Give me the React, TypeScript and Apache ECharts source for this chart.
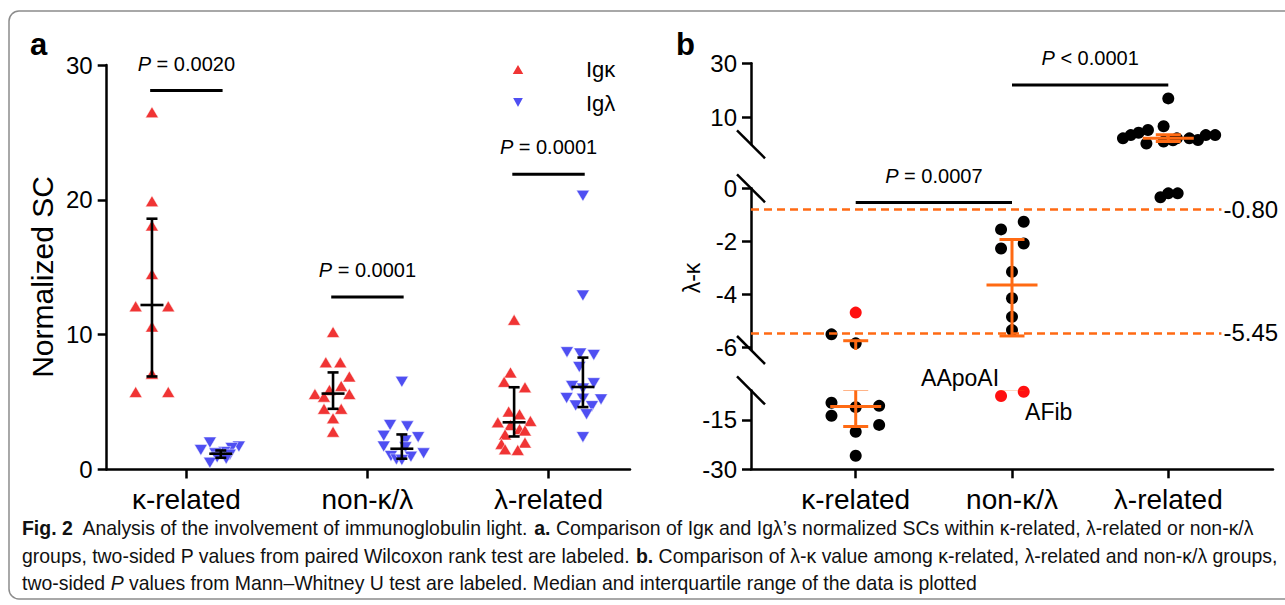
import React, { useEffect, useRef } from 'react';
import * as echarts from 'echarts';

// ---------- shared ----------
const categories = ['κ-related', 'non-κ/λ', 'λ-related'];
const categoryTicks = [0, 1, 2];

// ---------- panel a : normalized SC ----------
const kappaIgK = [26.5, 19.9, 18.1, 14.5, 12.1, 12.1, 10.6, 7.1, 5.75, 5.75];
const kappaIgKJit = [0, 0, 0, 0, -0.09, 0.09, 0, 0, -0.09, 0.09];
const kappaIgL = [2.0, 1.7, 1.6, 1.45, 1.3, 1.2, 1.1, 0.9, 0.8, 0.5];
const kappaIgLJit = [-0.06, 0.1, 0.06, -0.11, 0.02, -0.03, 0.05, -0.02, 0.03, -0.06];

const nonIgK = [10.2, 7.95, 7.95, 6.9, 6.2, 5.9, 5.6, 5.6, 5.4, 4.5, 4.5, 3.8, 2.8];
const nonIgKJit = [0, -0.04, 0.04, 0.09, 0.045, -0.02, -0.1, 0.09, -0.05, -0.05, 0.045, 0, 0];
const nonIgL = [6.5, 3.3, 3.2, 2.5, 2.4, 2.15, 1.7, 1.65, 1.2, 1.0, 0.95, 0.75, 0.7];
const nonIgLJit = [0, -0.065, 0.03, -0.1, 0.09, 0.02, -0.1, 0.02, 0.12, -0.06, 0.05, -0.03, 0];

const lambdaIgK = [11.1, 7.2, 6.5, 6.1, 4.3, 4.1, 3.6, 3.5, 3.3, 3.0, 2.9, 2.6, 2.0, 1.9, 1.5, 1.45];
const lambdaIgKJit = [0, -0.02, -0.055, 0.06, -0.03, 0.03, 0.09, -0.09, -0.02, 0.03, 0.06, -0.05, 0.06, -0.07, -0.05, 0.02];
const lambdaIgL = [20.3, 12.9, 8.7, 8.6, 8.5, 7.6, 6.4, 6.2, 6.0, 5.3, 5.25, 5.2, 4.75, 4.7, 4.1, 2.4];
const lambdaIgLJit = [0, 0, -0.088, -0.015, 0.06, -0.02, 0.06, -0.06, 0, -0.09, 0, 0.1, -0.04, 0.05, 0.02, 0];

// median / interquartile range per category
const medIgK = [12.2, 5.63, 3.5];
const q1IgK = [6.9, 4.5, 2.45];
const q3IgK = [18.6, 7.2, 6.1];
const medIgL = [1.17, 1.54, 6.12];
const q1IgL = [0.87, 0.8, 4.63];
const q3IgL = [1.41, 2.6, 8.3];

// paired Wilcoxon P values
const pTextA = ['0.0020', '0.0001', '0.0001'];
const pBarYA = [28.1, 12.8, 21.9];

// ---------- panel b : λ-κ ----------
const kappaDiff = [-4.69, -5.51, -5.85, -9.74, -10.7, -11.1, -13.7, -16.5, -18.6, -25.9];
const kappaDiffJit = [0, -0.155, 0, -0.155, 0.15, 0, -0.155, 0.15, 0, 0];
const nonDiff = [-1.26, -1.55, -2.08, -2.27, -3.15, -4.15, -4.85, -5.35, -7.7, -6.4];
const nonDiffJit = [0.075, -0.07, 0.075, -0.07, 0, 0, 0, 0, -0.07, 0.075];
const lambdaDiff = [17.0, 6.7, 5.3, 4.3, 3.4, 2.2, 0.3, 1.0, 1.5, 2.2, 2.2, 1.6, 3.4, 3.4, -0.34, -0.19, -0.19];
const lambdaDiffJit = [0, -0.03, -0.13, -0.19, -0.24, -0.29, -0.14, -0.03, 0.03, 0.055, 0.135, 0.19, 0.24, 0.3, -0.05, 0, 0.06];
const diffRed = [[0], [8, 9], []];
const diffNames: Record<string, string> = { '1-8': 'AApoAI', '1-9': 'AFib' };

const medDiff = [-10.9, -3.65, 2.2];
const q1Diff = [-17.0, -5.57, 1.0];
const q3Diff = [-5.75, -1.93, 3.5];

const thresholds = [-0.8, -5.45];
const thresholdLabels = ['-0.80', '-5.45'];

// Mann–Whitney P values
const pBarsB = [
  { from: 0, to: 1, y: -0.54, seg: 1, text: '{i|P} = 0.0007' },
  { from: 1, to: 2, y: 22, seg: 0, text: '{i|P} < 0.0001' },
];

// broken axis segments (top → bottom)
const segMin = [0, -6.1, -30];
const segMax = [30, 0, -6];
const segTicks = [[10, 30], [0, -2, -4, -6], [-15, -30]];

// ---------- styling / layout ----------
const FONT = '"Liberation Sans", Arial, sans-serif';
const RED = '#F03434';
const BLUE = '#4F4FF2';
const ORANGE = '#FF6A13';
const DOT_RED = '#FF1010';
const SIDE = 0.19;

const GA = { left: 106.7, top: 65, width: 523.3, height: 404.5 };
const GB_LEFT = 751;
const GB_WIDTH = 522;
const GB = [
  { top: 63.3, height: 81 },
  { top: 188.3, height: 161.7 },
  { top: 390.4, height: 78.9 },
];
const XA = [-0.44, 2.45];
const XB = [-0.67, 2.67];

const DOWN_TRI = 'path://M0,0L12,0L6,11Z';

function pts(vals: number[], jit: number[], cat: number, side: number) {
  return vals.map((v, i) => [cat + side + jit[i], v]);
}

function errorBar(medW: number, capW: number, color: string, lw: number) {
  return (params: any, api: any) => {
    const x = api.value(0);
    const pm = api.coord([x, api.value(1)]);
    const p1 = api.coord([x, api.value(2)]);
    const p3 = api.coord([x, api.value(3)]);
    const style = { stroke: color, lineWidth: lw };
    return {
      type: 'group',
      children: [
        { type: 'line', shape: { x1: p1[0], y1: p1[1], x2: p3[0], y2: p3[1] }, style },
        { type: 'line', shape: { x1: pm[0] - medW / 2, y1: pm[1], x2: pm[0] + medW / 2, y2: pm[1] }, style },
        { type: 'line', shape: { x1: p1[0] - capW / 2, y1: p1[1], x2: p1[0] + capW / 2, y2: p1[1] }, style },
        { type: 'line', shape: { x1: p3[0] - capW / 2, y1: p3[1], x2: p3[0] + capW / 2, y2: p3[1] }, style },
      ],
    };
  };
}

const axisLineStyle = { color: '#000', width: 2.5 };
const tickLabel = { color: '#000', fontSize: 24, fontFamily: FONT };

function buildOption() {
  const grid: any[] = [
    { left: GA.left, top: GA.top, width: GA.width, height: GA.height, outerBoundsMode: 'none', containLabel: false },
    ...GB.map((g) => ({ left: GB_LEFT, top: g.top, width: GB_WIDTH, height: g.height, outerBoundsMode: 'none', containLabel: false })),
  ];

  const catXAxis = (min: number, max: number, gridIndex: number, show: boolean) => ({
    type: 'value',
    gridIndex,
    min,
    max,
    show,
    splitLine: { show: false },
    axisLine: { show: true, onZero: false, lineStyle: axisLineStyle },
    axisTick: { show: true, customValues: categoryTicks, length: 9, lineStyle: { width: 2.5, color: '#000' } },
    axisLabel: {
      show: true,
      customValues: categoryTicks,
      formatter: (v: number) => categories[Math.round(v)] ?? '',
      color: '#000',
      fontSize: 28,
      fontFamily: FONT,
      margin: 16,
    },
  });

  const xAxis: any[] = [
    catXAxis(XA[0], XA[1], 0, true),
    catXAxis(XB[0], XB[1], 1, false),
    catXAxis(XB[0], XB[1], 2, false),
    catXAxis(XB[0], XB[1], 3, true),
  ];

  const yAxis: any[] = [
    {
      type: 'value',
      gridIndex: 0,
      min: 0,
      max: 30,
      interval: 10,
      splitLine: { show: false },
      axisLine: { show: true, onZero: false, lineStyle: axisLineStyle },
      axisTick: { show: true, length: 9, lineStyle: { width: 2.5, color: '#000' } },
      axisLabel: { ...tickLabel, margin: 14 },
    },
    ...GB.map((_, s) => ({
      type: 'value',
      gridIndex: s + 1,
      min: segMin[s],
      max: segMax[s],
      splitLine: { show: false },
      axisLine: { show: true, onZero: false, lineStyle: axisLineStyle },
      axisTick: { show: true, customValues: segTicks[s], length: 9, lineStyle: { width: 2.5, color: '#000' } },
      axisLabel: { ...tickLabel, customValues: segTicks[s], margin: 14 },
    })),
  ];

  const series: any[] = [];

  // panel a scatter
  series.push({
    name: 'Igκ',
    type: 'scatter',
    xAxisIndex: 0,
    yAxisIndex: 0,
    symbol: 'triangle',
    symbolSize: [13, 11],
    itemStyle: { color: RED, opacity: 1, borderColor: '#fff', borderWidth: 0.5 },
    data: [
      ...pts(kappaIgK, kappaIgKJit, 0, -SIDE),
      ...pts(nonIgK, nonIgKJit, 1, -SIDE),
      ...pts(lambdaIgK, lambdaIgKJit, 2, -SIDE),
    ],
    z: 2,
  });
  series.push({
    name: 'Igλ',
    type: 'scatter',
    xAxisIndex: 0,
    yAxisIndex: 0,
    symbol: DOWN_TRI,
    symbolSize: [13, 11],
    itemStyle: { color: BLUE, opacity: 1, borderColor: '#fff', borderWidth: 0.5 },
    data: [
      ...pts(kappaIgL, kappaIgLJit, 0, SIDE),
      ...pts(nonIgL, nonIgLJit, 1, SIDE),
      ...pts(lambdaIgL, lambdaIgLJit, 2, SIDE),
    ],
    z: 2,
  });
  // panel a median / IQR
  series.push({
    type: 'custom',
    xAxisIndex: 0,
    yAxisIndex: 0,
    renderItem: errorBar(23, 11, '#000', 2.6),
    encode: { x: 0, y: [1, 2, 3] },
    data: [
      ...categories.map((_, c) => [c - SIDE, medIgK[c], q1IgK[c], q3IgK[c]]),
      ...categories.map((_, c) => [c + SIDE, medIgL[c], q1IgL[c], q3IgL[c]]),
    ],
    z: 5,
    silent: true,
  });
  // panel a P bars
  pBarYA.forEach((y, c) => {
    series.push({
      type: 'line',
      xAxisIndex: 0,
      yAxisIndex: 0,
      symbol: 'none',
      silent: true,
      lineStyle: { color: '#000', width: 3 },
      data: [[c - 0.2, y], [c + 0.2, y]],
      z: 5,
    });
  });

  // panel b points by segment
  const diffVals = [kappaDiff, nonDiff, lambdaDiff];
  const diffJit = [kappaDiffJit, nonDiffJit, lambdaDiffJit];
  const segOf = (v: number) => (v >= segMin[0] ? 0 : v >= segMin[1] ? 1 : 2);
  for (let s = 0; s < 3; s++) {
    const black: any[] = [];
    const red: any[] = [];
    diffVals.forEach((vals, c) => {
      vals.forEach((v, i) => {
        if (segOf(v) !== s) return;
        const item: any = { value: [c + diffJit[c][i], v] };
        const key = `${c}-${i}`;
        if (diffRed[c].includes(i)) {
          if (diffNames[key] === 'AApoAI') {
            item.label = { show: true, formatter: 'AApoAI', position: 'left', distance: 2, offset: [6, -18] };
          } else if (diffNames[key] === 'AFib') {
            item.label = { show: true, formatter: 'AFib', position: 'bottom', distance: 3, offset: [25, 0] };
          }
          red.push(item);
        } else black.push(item);
      });
    });
    const blackSeries: any = {
      type: 'scatter',
      xAxisIndex: s + 1,
      yAxisIndex: s + 1,
      symbol: 'circle',
      symbolSize: 12,
      itemStyle: { color: '#000', opacity: 1 },
      data: black,
      z: 2,
    };
    if (s === 1) {
      blackSeries.markLine = {
        silent: true,
        symbol: ['none', 'none'],
        lineStyle: { color: ORANGE, width: 2.6, type: [8, 5] },
        label: { show: true, position: 'end', distance: 2, formatter: '{b}', color: '#000', fontSize: 24, fontFamily: FONT },
        data: thresholds.map((t, k) => [
          { name: thresholdLabels[k], coord: [XB[0], t] },
          { coord: [2.34, t] },
        ]),
      };
    }
    series.push(blackSeries);
    series.push({
      type: 'scatter',
      xAxisIndex: s + 1,
      yAxisIndex: s + 1,
      symbol: 'circle',
      symbolSize: 12,
      itemStyle: { color: DOT_RED, opacity: 1 },
      label: { color: '#000', fontSize: 23, fontFamily: FONT },
      data: red,
      z: 2,
    });
    series.push({
      type: 'custom',
      xAxisIndex: s + 1,
      yAxisIndex: s + 1,
      clip: true,
      renderItem: errorBar(51, 25, ORANGE, 3),
      encode: { x: 0, y: [1, 2, 3] },
      data: categories.map((_, c) => [c, medDiff[c], q1Diff[c], q3Diff[c]]),
      z: 5,
      silent: true,
    });
  }
  pBarsB.forEach((b) => {
    series.push({
      type: 'line',
      xAxisIndex: b.seg + 1,
      yAxisIndex: b.seg + 1,
      symbol: 'none',
      silent: true,
      lineStyle: { color: '#000', width: 3 },
      data: [[b.from, b.y], [b.to, b.y]],
      z: 5,
    });
  });

  return {
    animation: false,
    backgroundColor: '#fff',
    grid,
    xAxis,
    yAxis,
    legend: {
      orient: 'vertical',
      left: 505,
      top: 53,
      itemWidth: 14,
      itemHeight: 12,
      itemGap: 12,
      selectedMode: false,
      textStyle: { fontSize: 22, fontFamily: FONT, color: '#000', padding: [0, 0, 0, 56] },
      data: ['Igκ', 'Igλ'],
    },
    series,
  };
}

// caption measuring (to emulate the condensed caption face)
const CAP_SIZE = 21;
const CAP_FONT = '"Liberation Sans", Arial, sans-serif';
function measureRich(line: string) {
  const ctx = document.createElement('canvas').getContext('2d') as CanvasRenderingContext2D;
  let w = 0;
  const re = /\{(b|i)\|([^}]*)\}/g;
  let last = 0;
  let m: RegExpExecArray | null;
  const parts: [string, string][] = [];
  while ((m = re.exec(line))) {
    if (m.index > last) parts.push(['', line.slice(last, m.index)]);
    parts.push([m[1], m[2]]);
    last = m.index + m[0].length;
  }
  if (last < line.length) parts.push(['', line.slice(last)]);
  parts.forEach(([k, t]) => {
    const pre = k === 'b' ? 'bold ' : k === 'i' ? 'italic ' : '';
    ctx.font = `${pre}${CAP_SIZE}px ${CAP_FONT}`;
    w += ctx.measureText(t).width;
  });
  return w;
}

function buildGraphics(chart: any) {
  const g: any[] = [];
  // figure frame
  g.push({
    type: 'rect',
    shape: { x: 9, y: 11, width: 1300, height: 588, r: 10 },
    style: { fill: 'none', stroke: '#8c8c8c', lineWidth: 1.5 },
    silent: true,
    z: -1,
  });
  // panel letters
  g.push({ type: 'text', x: 30, y: 44, style: { text: 'a', fontSize: 31, fontWeight: 'bold', fontFamily: FONT, fill: '#000', align: 'left', verticalAlign: 'middle' } });
  g.push({ type: 'text', x: 676, y: 44, style: { text: 'b', fontSize: 31, fontWeight: 'bold', fontFamily: FONT, fill: '#000', align: 'left', verticalAlign: 'middle' } });
  // axis names
  g.push({ type: 'text', x: 42, y: 277, rotation: Math.PI / 2, style: { text: 'Normalized SC', fontSize: 30, fontFamily: FONT, fill: '#000', align: 'center', verticalAlign: 'middle' } });
  g.push({ type: 'text', x: 692, y: 278, rotation: Math.PI / 2, style: { text: 'λ-κ', fontSize: 23, fontFamily: FONT, fill: '#000', align: 'center', verticalAlign: 'middle' } });
  // axis break slashes
  const ends = [GB[0].top + GB[0].height, GB[1].top, GB[1].top + GB[1].height, GB[2].top];
  ends.forEach((y) => {
    g.push({ type: 'line', shape: { x1: GB_LEFT - 14, y1: y - 14, x2: GB_LEFT + 14, y2: y + 14 }, style: { stroke: '#000', lineWidth: 2.5 }, silent: true });
  });
  // P value texts
  const pStyle = (text: string) => ({
    text,
    fontSize: 20,
    fontFamily: FONT,
    fill: '#000',
    align: 'center',
    verticalAlign: 'middle',
    rich: { i: { fontStyle: 'italic', fontSize: 20, fontFamily: FONT, fill: '#000' } },
  });
  pBarYA.forEach((y, c) => {
    const p = chart.convertToPixel({ gridIndex: 0 }, [c, y]);
    g.push({ type: 'text', x: p[0], y: p[1] - 27, style: pStyle(`{i|P} = ${pTextA[c]}`) });
  });
  pBarsB.forEach((b) => {
    const p = chart.convertToPixel({ gridIndex: b.seg + 1 }, [(b.from + b.to) / 2, b.y]);
    g.push({ type: 'text', x: p[0], y: p[1] - 26.5, style: pStyle(b.text) });
  });
  // caption
  const capRich = {
    b: { fontWeight: 'bold', fontSize: CAP_SIZE, fontFamily: CAP_FONT, fill: '#111' },
    i: { fontStyle: 'italic', fontSize: CAP_SIZE, fontFamily: CAP_FONT, fill: '#111' },
  };
  const lines = [
    '{b|Fig. 2}  Analysis of the involvement of immunoglobulin light. {b|a.} Comparison of Igκ and Igλ’s normalized SCs within κ-related, λ-related or non-κ/λ',
    'groups, two-sided P values from paired Wilcoxon rank test are labeled. {b|b.} Comparison of λ-κ value among κ-related, λ-related and non-κ/λ groups,',
    'two-sided {i|P} values from Mann–Whitney U test are labeled. Median and interquartile range of the data is plotted',
  ];
  const w0 = measureRich(lines[0]);
  const sx = w0 > 0 ? Math.min(1, 1232 / w0) : 0.8;
  const ys = [528, 556, 583];
  lines.forEach((t, k) => {
    g.push({
      type: 'text',
      x: 22,
      y: ys[k],
      scaleX: sx,
      style: { text: t, fontSize: CAP_SIZE, fontFamily: CAP_FONT, fill: '#111', align: 'left', verticalAlign: 'middle', rich: capRich },
    });
  });
  return g;
}

export default function App() {
  const ref = useRef<HTMLDivElement>(null);
  useEffect(() => {
    const chart = echarts.init(ref.current as HTMLDivElement, null, { renderer: 'svg' });
    chart.setOption(buildOption() as any);
    chart.setOption({ graphic: buildGraphics(chart) } as any);
    return () => chart.dispose();
  }, []);
  return (
    <div
      ref={ref}
      style={{ position: 'absolute', left: 0, top: 0, width: 1285, height: 605, background: '#fff' }}
    />
  );
}
